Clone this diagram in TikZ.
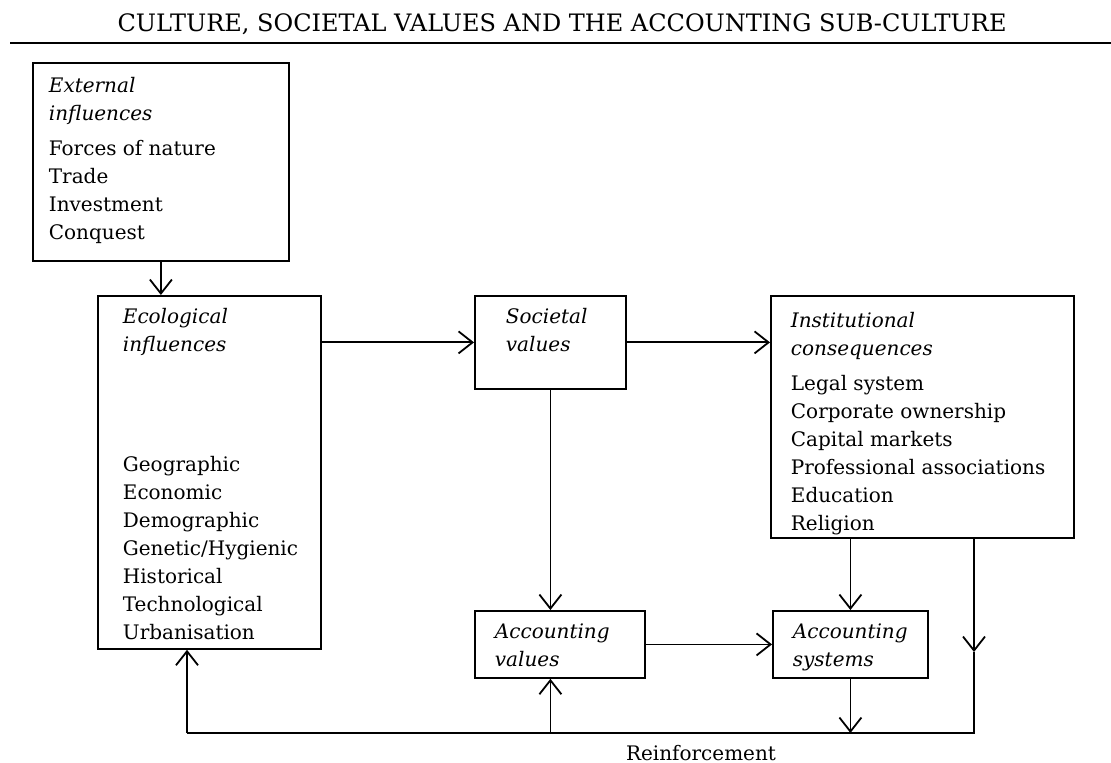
\documentclass[tikz,border=0pt]{standalone}
\usepackage{fontspec}
\setmainfont{DejaVu Serif}
\usetikzlibrary{arrows.meta, calc}

\newcommand{\boxfont}{\fontsize{10}{14}\selectfont}

\begin{document}
\begin{tikzpicture}[x=0.5pt, y=-0.5pt, >={Straight Barb[length=7pt, width=11pt]}, line width=0.9pt,
  box/.style={draw, anchor=north west, inner sep=0pt},
  boxtext/.style={anchor=north west, align=left, inner sep=0pt, font=\boxfont}]
  \useasboundingbox (0,0) rectangle (1111,763);
  \node[font=\fontsize{12}{14}\selectfont] (title) at (562,24) {CULTURE, SOCIETAL VALUES AND THE ACCOUNTING SUB-CULTURE};
  \draw[line width=1.1pt] (10,43) -- (1111,43);
  \node[box, minimum width=128pt, minimum height=99pt] (external) at (32,62) {};
  \node[box, minimum width=111.5pt, minimum height=176.5pt] (ecological) at (97,295) {};
  \node[box, minimum width=75.5pt, minimum height=46.5pt] (societal) at (474,295) {};
  \node[box, minimum width=151.5pt, minimum height=121pt] (institutional) at (770,295) {};
  \node[box, minimum width=85pt, minimum height=33.5pt] (accValues) at (474,610) {};
  \node[box, minimum width=77.5pt, minimum height=33.5pt] (accSystems) at (772,610) {};
  \node[boxtext] (externalText) at (48,76) {\textit{External}\\\textit{influences}\\[3.5pt]Forces of nature\\Trade\\Investment\\Conquest};
  \node[boxtext] (ecologicalText) at (122,307) {\textit{Ecological}\\\textit{influences}\\[46pt]Geographic\\Economic\\Demographic\\Genetic/Hygienic\\Historical\\Technological\\Urbanisation};
  \node[boxtext] (societalText) at (505,307) {\textit{Societal}\\\textit{values}};
  \node[boxtext] (institutionalText) at (790,311) {\textit{Institutional}\\\textit{consequences}\\[3.5pt]Legal system\\Corporate ownership\\Capital markets\\Professional associations\\Education\\Religion};
  \node[boxtext] (accValuesText) at (494,623) {\textit{Accounting}\\\textit{values}};
  \node[boxtext] (accSystemsText) at (792,623) {\textit{Accounting}\\\textit{systems}};
  \node[font=\boxfont] (reinforcement) at (701,753) {Reinforcement};
  \coordinate (loopRight) at (974,733);
  \coordinate (loopLeft) at (187,733);
  \coordinate (loopMid) at (974,652);
  \draw[->] (external.south) -- (external.south |- ecological.north);
  \draw[->] (societal.west -| ecological.east) -- (societal.west);
  \draw[->] (societal.east) -- (societal.east -| institutional.west);
  \draw[->] (societal.south) -- (societal.south |- accValues.north);
  \draw[->] (accValues.east) -- (accValues.east -| accSystems.west);
  \draw[->] (accSystems.north |- institutional.south) -- (accSystems.north);
  \draw[->] (institutional.south -| loopRight) -- (loopMid);
  \draw (loopMid) -- (loopRight) -- (loopLeft);
  \draw[->] (accSystems.south) -- (accSystems.south |- loopRight);
  \draw[->] (loopLeft) -- (loopLeft |- ecological.south);
  \draw[->] (societal.south |- loopLeft) -- (societal.south |- accValues.south);
\end{tikzpicture}
\end{document}
